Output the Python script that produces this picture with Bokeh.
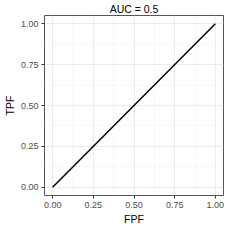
from bokeh.plotting import figure
from bokeh.models import FixedTicker, NumeralTickFormatter, Range1d
from bokeh.embed import file_html
from bokeh.resources import INLINE

fpf = [0.0, 1.0]
tpf = [0.0, 1.0]
ticks = [0.0, 0.25, 0.5, 0.75, 1.0]
minor = [0.125, 0.375, 0.625, 0.875]
title = "AUC = 0.5"

FONT = "Liberation Sans"

p = figure(width=227, height=227, output_backend="svg", toolbar_location=None,
           x_range=Range1d(-0.05, 1.05), y_range=Range1d(-0.05, 1.05),
           title=title, min_border_left=26, min_border_right=4,
           min_border_top=2, min_border_bottom=2)

p.title.align = "center"
p.title.text_font = FONT
p.title.text_font_size = "10.5px"
p.title.text_font_style = "normal"
p.title.text_color = "#000000"
p.title.standoff = 1

p.line(fpf, tpf, line_color="black", line_width=1.5)

for ax in (p.xaxis, p.yaxis):
    ax.ticker = FixedTicker(ticks=ticks, minor_ticks=minor)
    ax.formatter = NumeralTickFormatter(format="0.00")
    ax.axis_line_color = None
    ax.major_tick_line_color = "#333333"
    ax.major_tick_in = 0
    ax.major_tick_out = 3
    ax.minor_tick_line_color = None
    ax.major_label_text_font = FONT
    ax.major_label_text_font_size = "9px"
    ax.major_label_text_color = "#4D4D4D"
    ax.major_label_standoff = 2
    ax.axis_label_text_font = FONT
    ax.axis_label_text_font_size = "10.5px"
    ax.axis_label_text_font_style = "normal"
    ax.axis_label_text_color = "#000000"
    ax.axis_label_standoff = 2

p.xaxis.axis_label = "FPF"
p.yaxis.axis_label = "TPF"

for g in (p.xgrid, p.ygrid):
    g.grid_line_color = "#EBEBEB"
    g.grid_line_width = 1
    g.minor_grid_line_color = "#F3F3F3"
    g.minor_grid_line_width = 0.6

p.outline_line_color = "#555555"
p.outline_line_width = 1
p.background_fill_color = "white"
p.border_fill_color = "white"

open("out.html", "w").write(file_html(p, INLINE))
